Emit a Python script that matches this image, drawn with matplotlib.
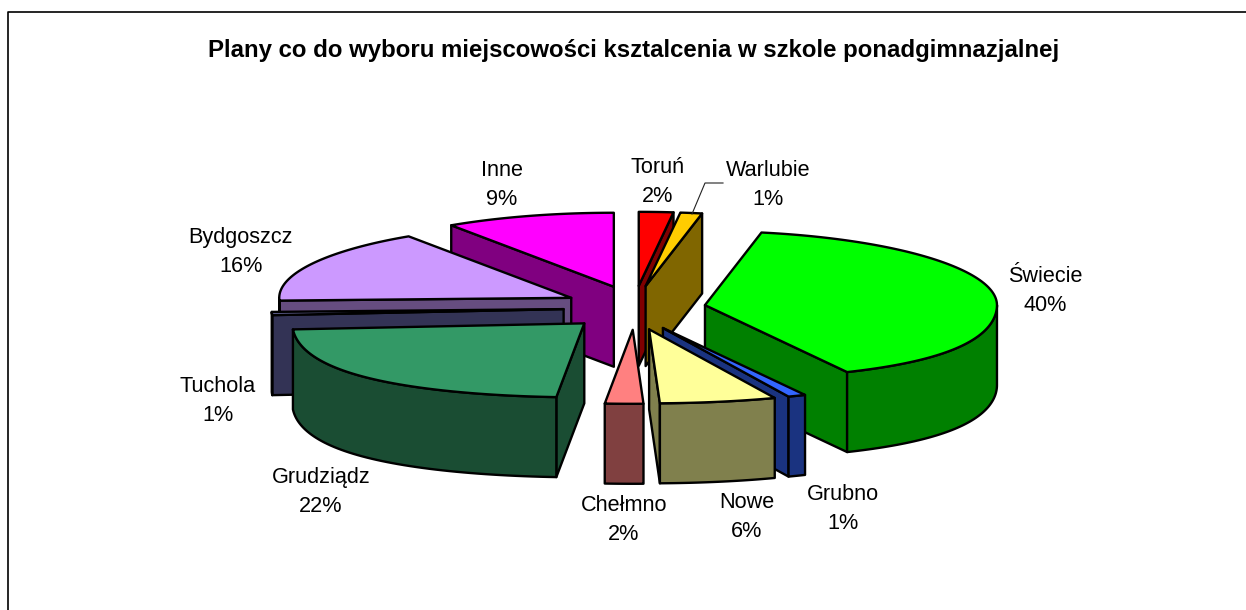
import numpy as np
import matplotlib
matplotlib.use('Agg')
import matplotlib.pyplot as plt
from matplotlib.patches import Polygon

plt.rcParams['font.family'] = ['Liberation Sans', 'DejaVu Sans']

# Data, clockwise from 12 o'clock
names = ['Toruń', 'Warlubie', 'Świecie', 'Grubno', 'Nowe', 'Chełmno',
         'Grudziądz', 'Tuchola', 'Bydgoszcz', 'Inne']
values = [1.9, 1.2, 39.9, 0.9, 5.6, 1.8, 22.4, 0.7, 16.2, 9.4]
top_colors = ['#FF0000', '#FFCC00', '#00FF00', '#3366FF', '#FFFF99', '#FF8080',
              '#339966', '#666699', '#CC99FF', '#FF00FF']
side_colors = ['#800000', '#806600', '#008000', '#1A3380', '#80804D', '#804040',
               '#1A4D33', '#333355', '#664D80', '#800080']
label_pos = [(658, 182), (768, 185), (1045, 291), (843, 509), (747, 517),
             (624, 520), (321, 492), (218, 401), (241, 252), (502, 185)]

title = 'Plany co do wyboru miejscowości ksztalcenia w szkole ponadgimnazjalnej'

# Pie geometry in pixels
cx, cy = 634.5, 307.8
rx, ry = 292, 74
ex, ey = 71, 22
depth = 80
persp = 0.175

fig = plt.figure(figsize=(12.46, 6.10), dpi=100)
ax = fig.add_axes([0, 0, 1, 1])
ax.set_xlim(0, 1246)
ax.set_ylim(610, 0)
ax.axis('off')

# Chart frame, cut off on the right and at the bottom
ax.plot([8, 8, 1246], [610, 12, 12], color='black', lw=1.2, zorder=1)


def rim(ax0, ay0, theta):
    # the front of the ellipse is a little wider than the back
    c = np.cos(theta)
    x = ax0 + rx * np.sin(theta) * (1 + persp * np.minimum(c, 0) ** 2)
    y = ay0 - ry * c
    return x, y


def face(xs, ys, color, z):
    pts = np.column_stack([xs, ys])
    ax.add_patch(Polygon(pts, closed=True, facecolor=color, edgecolor='black',
                         lw=1.7, joinstyle='round', zorder=z))


bounds = np.cumsum([0] + values) / sum(values) * 2 * np.pi

for i in range(len(values)):
    t1, t2 = bounds[i], bounds[i + 1]
    mid = (t1 + t2) / 2
    ax0 = cx + ex * np.sin(mid)
    ay0 = cy - ey * np.cos(mid)
    z = 2 + ay0 / 100  # back slices first

    # cut faces that look towards the viewer
    for t, show in [(t1, np.sin(t1) < 0), (t2, np.sin(t2) > 0)]:
        if show:
            x, y = rim(ax0, ay0, t)
            face([ax0, x, x, ax0], [ay0, y, y + depth, ay0 + depth], side_colors[i], z)

    # outer wall, only the front half of the ellipse
    lo, hi = max(t1, np.pi / 2), min(t2, 3 * np.pi / 2)
    if hi > lo:
        ts = np.linspace(lo, hi, 60)
        x, y = rim(ax0, ay0, ts)
        face(np.r_[x, x[::-1]], np.r_[y, y[::-1] + depth], side_colors[i], z)

    # top
    ts = np.linspace(t1, t2, 120)
    x, y = rim(ax0, ay0, ts)
    face(np.r_[ax0, x], np.r_[ay0, y], top_colors[i], z)

    # label
    lx, ly = label_pos[i]
    ax.text(lx, ly, f'{names[i]}\n{round(values[i])}%', ha='center', va='center',
            fontsize=15.6, linespacing=1.48, color='black', zorder=20)

# Leader line of the Warlubie label
ax.plot([723, 705, 692], [183, 183, 214], color='#222222', lw=0.8, zorder=19)

ax.text(633.5, 50, title, ha='center', va='center', fontsize=17.25,
        fontweight='bold', zorder=20)

fig.savefig('out.png', dpi=100)
